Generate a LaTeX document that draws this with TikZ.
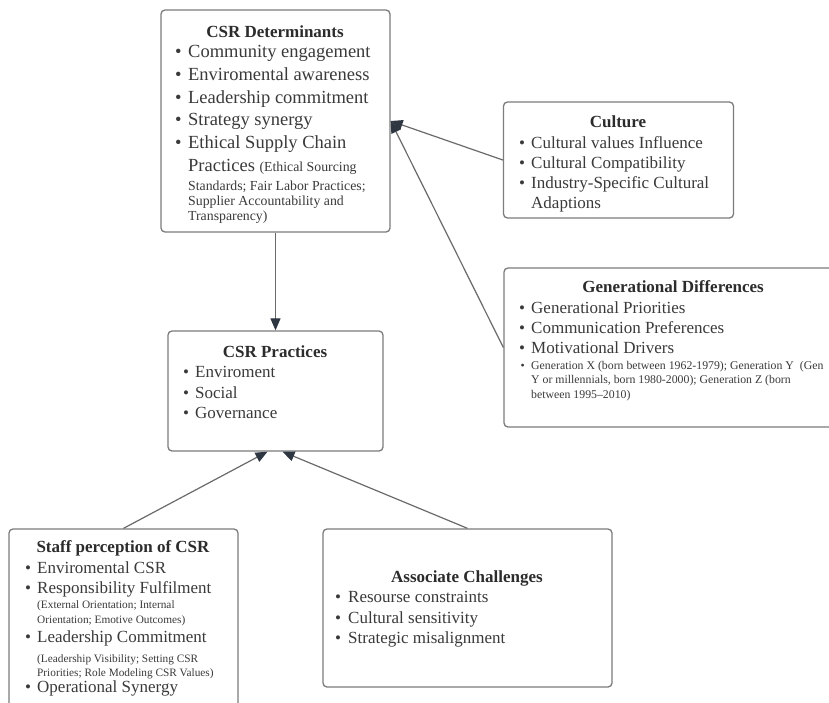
\documentclass[tikz,border=0pt]{standalone}
\usepackage{fontspec}
\setmainfont{Liberation Serif}
\usetikzlibrary{arrows.meta}
\definecolor{boxc}{HTML}{7C7C7C}
\definecolor{linec}{HTML}{6A6A6A}
\definecolor{tipc}{HTML}{2E3642}
\definecolor{txtc}{HTML}{3A3A3A}
\definecolor{titc}{HTML}{2C2C2C}
\newcommand\bitem[6]{\node[bodyline, anchor=base west] (#1) at ({#2-#6},#4) {\makebox[\dimexpr#3pt-#2pt+#6pt\relax][l]{•}#5};}
\newcommand\pline[4]{\node[bodyline, anchor=base west] (#1) at (#2,#3) {#4};}
\begin{document}
\begin{tikzpicture}[x=1pt,y=-1pt,
  boxnode/.style={draw=boxc, line width=1.3pt, rounded corners=4pt, inner sep=0pt, fill=white},
  titlenode/.style={anchor=base, inner sep=0pt, text=titc, font=\bfseries\fontsize{17}{20}\selectfont},
  bodyline/.style={inner sep=0pt, text=txtc, font=\fontsize{17}{20}\selectfont},
  conn/.style={draw=linec, line width=1.2pt, -{Triangle[length=12pt,width=10pt,color=tipc]}}]
\useasboundingbox (0,0) rectangle (829,702);
\clip (0,0) rectangle (829,702);
\fill[white] (0,0) rectangle (829,702);

% boxes
\node[boxnode, minimum width=229pt, minimum height=222pt] (det) at (275.5,121) {};
\node[boxnode, minimum width=230pt, minimum height=116pt] (cul) at (618.5,160) {};
\node[boxnode, minimum width=340pt, minimum height=159pt] (gen) at (674,347.5) {};
\node[boxnode, minimum width=215pt, minimum height=120pt] (prac) at (275.5,391) {};
\node[boxnode, minimum width=229pt, minimum height=185pt] (staff) at (123.5,621.5) {};
\node[boxnode, minimum width=289pt, minimum height=158pt] (assoc) at (467.5,608) {};

% connectors
\draw[conn] (det.south) -- (prac.north);
\draw[conn] (cul.west) -- (det.east);
\draw[conn] (gen.west) -- (det.east);
\draw[conn] (staff.north) -- ([xshift=-8pt]prac.south);
\draw[conn] (assoc.north) -- ([xshift=7pt]prac.south);

% CSR Determinants
\node[titlenode] (dett) at (275,37) {CSR Determinants};
\begin{scope}[bodyline/.append style={font=\fontsize{18.5}{22}\selectfont}]
\bitem{d1}{178}{188}{57.5}{Community engagement}{3.2}
\bitem{d2}{178}{188}{80.3}{Enviromental awareness}{3.2}
\bitem{d3}{178}{188}{103}{Leadership commitment}{3.2}
\bitem{d4}{178}{188}{125.8}{Strategy synergy}{3.2}
\bitem{d5}{178}{188}{148.6}{Ethical Supply Chain}{3.2}
\pline{d6}{188}{171.5}{Practices {\fontsize{13.8}{16}\selectfont(Ethical Sourcing}}
\end{scope}
\begin{scope}[bodyline/.append style={font=\fontsize{13.8}{16}\selectfont}]
\pline{d7}{188}{190}{Standards; Fair Labor Practices;}
\pline{d8}{188}{205}{Supplier Accountability and}
\pline{d9}{188}{220}{Transparency)}
\end{scope}

% Culture
\node[titlenode] (cult) at (618,127) {Culture};
\bitem{c1}{522}{531}{148}{Cultural values Influence}{3}
\bitem{c2}{522}{531}{168}{Cultural Compatibility}{3}
\bitem{c3}{522}{531}{188}{Industry-Specific Cultural}{3}
\pline{c4}{531}{208}{Adaptions}

% Generational Differences
\node[titlenode] (gent) at (673,292) {Generational Differences};
\bitem{g1}{522}{531}{313}{Generational Priorities}{3}
\bitem{g2}{522}{531}{333}{Communication Preferences}{3}
\bitem{g3}{522}{531}{353}{Motivational Drivers}{3}
\begin{scope}[bodyline/.append style={font=\fontsize{11.8}{14}\selectfont}]
\bitem{g4}{522.5}{531}{369}{Generation X (born between 1962-1979); Generation Y~ (Gen}{2}
\pline{g5}{531}{383}{Y or millennials, born 1980-2000); Generation Z (born}
\pline{g6}{531}{398}{between 1995--2010)}
\end{scope}

% CSR Practices
\node[titlenode] (pract) at (275,357) {CSR Practices};
\bitem{p1}{186}{195}{377}{Enviroment}{3}
\bitem{p2}{186}{195}{398}{Social}{3}
\bitem{p3}{186}{195}{418}{Governance}{3}

% Staff perception
\node[titlenode] (stafft) at (123,552) {Staff perception of CSR};
\bitem{s1}{28}{37}{573}{Enviromental CSR}{3}
\bitem{s2}{28}{37}{593}{Responsibility Fulfilment}{3}
\bitem{s4}{28}{37}{642}{Leadership Commitment}{3}
\bitem{s7}{28}{37}{692}{Operational Synergy}{3}
\begin{scope}[bodyline/.append style={font=\fontsize{11.3}{13}\selectfont}]
\pline{s3a}{37}{608}{(External Orientation; Internal}
\pline{s3b}{37}{623}{Orientation; Emotive Outcomes)}
\pline{s5a}{37}{662}{(Leadership Visibility; Setting CSR}
\pline{s5b}{37}{676}{Priorities; Role Modeling CSR Values)}
\end{scope}

% Associate Challenges
\node[titlenode] (assoct) at (467,582) {Associate Challenges};
\bitem{a1}{338}{348}{602}{Resourse constraints}{3}
\bitem{a2}{338}{348}{623}{Cultural sensitivity}{3}
\bitem{a3}{338}{348}{643}{Strategic misalignment}{3}
\end{tikzpicture}
\end{document}
